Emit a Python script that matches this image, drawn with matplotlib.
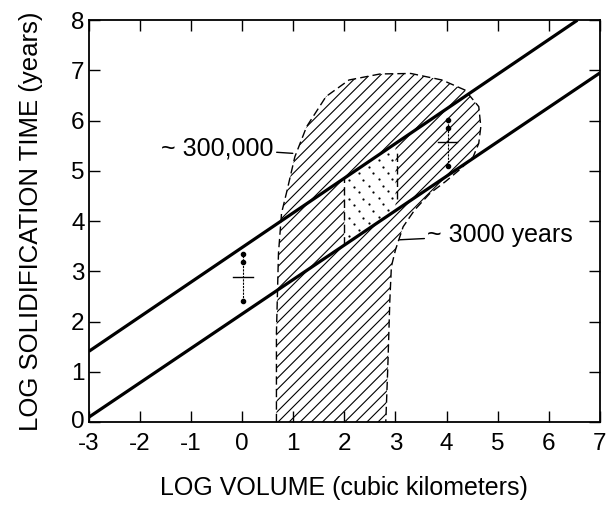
import matplotlib
matplotlib.use('Agg')
import matplotlib.pyplot as plt
import matplotlib.transforms as mtransforms
import numpy as np
from matplotlib.patches import Polygon

plt.rcParams['font.family'] = ['Liberation Sans', 'DejaVu Sans']
plt.rcParams['hatch.linewidth'] = 0.8

# trend lines (log volume, log solidification time)
upper_x = [-3.0, 6.56]
upper_y = [1.41, 8.0]
lower_x = [-3.0, 7.0]
lower_y = [0.10, 6.95]

# outline of the hatched field
field_x = [0.67, 0.67, 0.71, 0.77, 0.88, 1.03, 1.26, 1.64, 2.09, 2.70, 3.30,
           3.91, 4.36, 4.63, 4.67, 4.63, 4.52, 4.25, 3.98, 3.68, 3.38, 3.15,
           3.00, 2.92, 2.89, 2.85, 2.81]
field_y = [0.0, 1.77, 3.36, 4.16, 4.62, 5.28, 5.88, 6.48, 6.81, 6.93, 6.94,
           6.81, 6.61, 6.28, 5.88, 5.55, 5.28, 5.02, 4.79, 4.56, 4.23, 3.89,
           3.43, 3.10, 2.44, 1.11, 0.0]

# stippled band between the two lines
stipple_x = [2.0, 3.0]
divider_x = [2.0, 3.03]
divider_y0 = [None, 4.45]
divider_y1 = [None, 5.41]

# error bars: x, dots, centre, half width of cross
bars_x = [0.02, 4.02]
bars_dots = [[3.34, 3.19, 2.41], [6.02, 5.85, 5.09]]
bars_mid = [2.89, 5.57]
bars_half = [0.2, 0.19]

xticks = list(range(-3, 8))
yticks = list(range(0, 9))

fig = plt.figure(figsize=(6.09, 5.05), dpi=100)
ax = fig.add_axes([0.146, 0.164, 0.839, 0.796])


def line_at(xs, ys, x):
    return np.interp(x, xs, ys)


# hatched field
ax.fill(field_x, field_y, facecolor='none', edgecolor='black',
        hatch='///', linewidth=0, zorder=1)
ax.plot(field_x, field_y, color='black', lw=1.0, ls=(0, (6, 3)), zorder=2)

# stippled parallelogram: white cover + sparse staggered dots
sx0, sx1 = stipple_x
quad = [(sx0, line_at(lower_x, lower_y, sx0)),
        (sx1, line_at(lower_x, lower_y, sx1)),
        (sx1, line_at(upper_x, upper_y, sx1)),
        (sx0, line_at(upper_x, upper_y, sx0))]
ax.add_patch(Polygon(quad, closed=True, facecolor='white', edgecolor='none',
                     zorder=2))
nrow, ncol = 7, 5
uu, vv = np.meshgrid(np.linspace(0.1, 0.86, ncol), np.linspace(0.08, 0.92, nrow))
uu = uu + np.where(np.arange(nrow)[:, None] % 2 == 1, 0.08, 0.0)
px = sx0 + uu * (sx1 - sx0)
lo = line_at(lower_x, lower_y, px)
hi = line_at(upper_x, upper_y, px)
py = lo + vv * (hi - lo)
ax.plot(px.ravel(), py.ravel(), 'o', color='black', ms=1.6, mew=0, zorder=2.5)

for dx, y0, y1 in zip(divider_x, divider_y0, divider_y1):
    if y0 is None:
        y0 = line_at(lower_x, lower_y, dx)
        y1 = line_at(upper_x, upper_y, dx)
    ax.plot([dx, dx], [y0, y1], color='black', lw=1.0, ls=(0, (6, 3)),
            zorder=3)

# main lines
ax.plot(upper_x, upper_y, color='black', lw=2.3, zorder=4,
        solid_capstyle='butt')
ax.plot(lower_x, lower_y, color='black', lw=2.3, zorder=4,
        solid_capstyle='butt')

# error bars
for bx, dots, mid, hw in zip(bars_x, bars_dots, bars_mid, bars_half):
    ax.plot([bx, bx], [min(dots), max(dots)], color='black', lw=0.8,
            ls=(0, (2, 1)), zorder=5)
    ax.plot([bx] * len(dots), dots, 'o', color='black', ms=3, zorder=5)
    ax.plot([bx - hw, bx + hw], [mid, mid], color='black', lw=1.0, zorder=5)

# labels with leader lines
ax.annotate('~ 300,000', xy=(0.99, 5.35), xytext=(0.62, 5.45),
            ha='right', va='center', fontsize=18,
            arrowprops=dict(arrowstyle='-', lw=1.0, color='black',
                            shrinkA=0, shrinkB=0), zorder=6)
ax.annotate('~ 3000 years', xy=(3.08, 3.63), xytext=(3.62, 3.73),
            ha='left', va='center', fontsize=18,
            arrowprops=dict(arrowstyle='-', lw=1.0, color='black',
                            shrinkA=0, shrinkB=0), zorder=6)

ax.set_xlim(-3, 7)
ax.set_ylim(0, 8)
ax.set_xticks(xticks)
ax.set_yticks(yticks)
ax.set_xticklabels([str(t) for t in xticks])
ax.set_yticklabels([str(t) for t in yticks])
ax.tick_params(direction='in', length=8, width=1.0, top=True, right=True,
               labelsize=17.5)
ax.tick_params(axis='x', pad=8)
ax.tick_params(axis='y', pad=3)
for sp in ax.spines.values():
    sp.set_linewidth(1.3)

# nudge the y "0" up a little so it clears the x "-3"
zero_lab = ax.get_yticklabels()[0]
zero_lab.set_transform(zero_lab.get_transform() +
                       mtransforms.ScaledTranslation(0, 2 / 72, fig.dpi_scale_trans))

ax.set_xlabel('LOG VOLUME (cubic kilometers)', fontsize=18, labelpad=15)
ax.set_ylabel('LOG SOLIDIFICATION TIME (years)', fontsize=18.5, labelpad=20)

fig.savefig('out.png', dpi=100)
